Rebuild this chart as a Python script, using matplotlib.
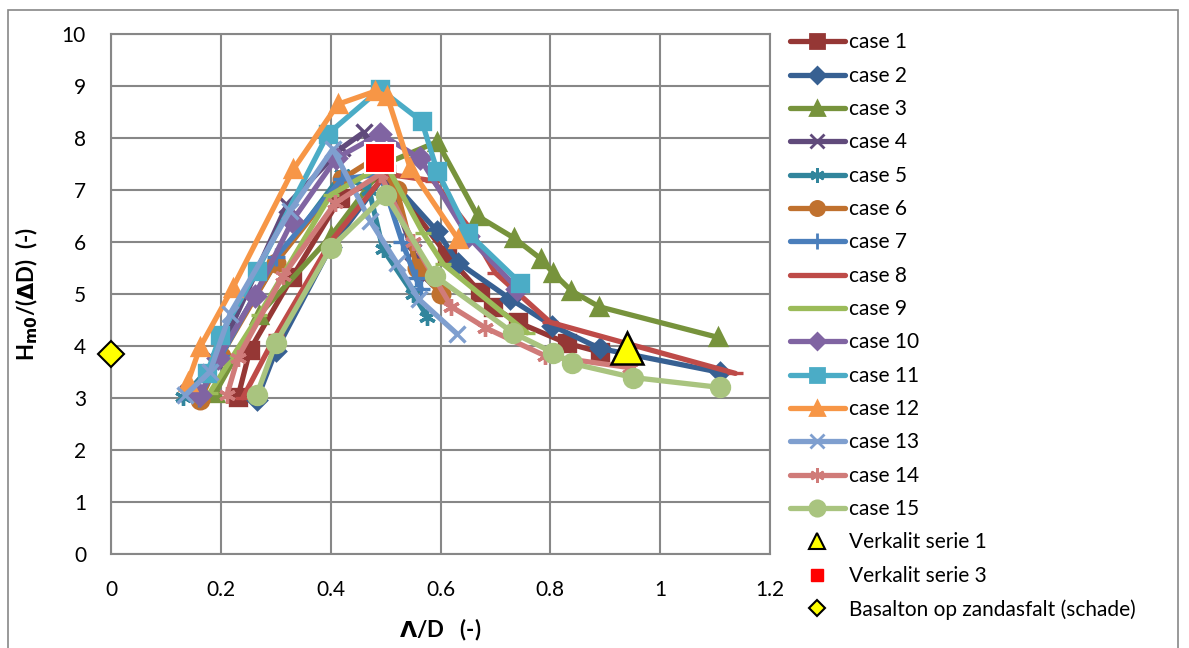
import matplotlib
matplotlib.use('Agg')
import matplotlib.pyplot as plt
from matplotlib.lines import Line2D
from matplotlib.patches import Rectangle

plt.rcParams['font.family'] = ['Lato', 'DejaVu Sans']

# ---- data (Lambda/D, Hm0/(Delta D)) ----
case1_x = [0.231, 0.253, 0.33, 0.417, 0.5, 0.612, 0.672, 0.696, 0.741, 0.83, 0.89]
case1_y = [3.01, 3.92, 5.32, 6.83, 7.3, 5.74, 5.03, 4.74, 4.45, 4.05, 3.88]
case2_x = [0.265, 0.3, 0.4, 0.5, 0.594, 0.632, 0.727, 0.803, 0.89, 1.109]
case2_y = [2.95, 3.9, 5.9, 7.3, 6.2, 5.6, 4.9, 4.39, 3.95, 3.49]
case3_x = [0.19, 0.27, 0.4, 0.5, 0.594, 0.668, 0.734, 0.783, 0.805, 0.838, 0.889, 1.106]
case3_y = [3.1, 4.6, 6.1, 7.5, 7.92, 6.49, 6.07, 5.67, 5.40, 5.06, 4.75, 4.16]
case4_x = [0.14, 0.19, 0.32, 0.42, 0.46, 0.51, 0.55, 0.57]
case4_y = [3.1, 3.7, 6.7, 7.8, 8.1, 7.0, 5.8, 5.3]
case5_x = [0.131, 0.19, 0.3, 0.42, 0.47, 0.495, 0.55, 0.576]
case5_y = [3.01, 3.7, 5.6, 7.3, 7.0, 5.86, 5.0, 4.56]
case6_x = [0.162, 0.2, 0.3, 0.42, 0.48, 0.52, 0.557, 0.6]
case6_y = [2.95, 3.8, 5.6, 7.2, 7.6, 7.0, 5.5, 5.0]
case7_x = [0.16, 0.2, 0.3, 0.42, 0.49, 0.53, 0.555, 0.565]
case7_y = [3.0, 3.8, 5.7, 7.2, 7.3, 6.0, 5.3, 5.1]
case8_x = [0.24, 0.3, 0.4, 0.5, 0.587, 0.65, 0.7, 0.8, 1.137]
case8_y = [3.0, 4.2, 6.0, 7.3, 7.17, 6.3, 5.4, 4.45, 3.47]
case9_x = [0.18, 0.27, 0.4, 0.5, 0.568, 0.605, 0.758]
case9_y = [3.1, 4.6, 6.9, 7.5, 6.17, 5.57, 4.25]
case10_x = [0.162, 0.195, 0.262, 0.33, 0.41, 0.49, 0.563, 0.65, 0.74]
case10_y = [3.05, 3.77, 4.96, 6.4, 7.6, 8.07, 7.6, 6.1, 5.1]
case11_x = [0.175, 0.199, 0.266, 0.395, 0.49, 0.566, 0.594, 0.65, 0.745]
case11_y = [3.47, 4.2, 5.44, 8.07, 8.93, 8.31, 7.36, 6.17, 5.21]
case12_x = [0.14, 0.162, 0.222, 0.332, 0.413, 0.481, 0.503, 0.545, 0.632]
case12_y = [3.3, 3.97, 5.12, 7.39, 8.64, 8.89, 8.79, 7.41, 6.05]
case13_x = [0.135, 0.18, 0.217, 0.326, 0.404, 0.472, 0.52, 0.56, 0.63]
case13_y = [3.05, 3.5, 4.62, 6.59, 7.78, 6.4, 5.6, 4.9, 4.23]
case14_x = [0.211, 0.231, 0.313, 0.408, 0.49, 0.55, 0.62, 0.681, 0.79, 0.945]
case14_y = [3.05, 3.77, 5.34, 6.74, 7.3, 6.0, 4.75, 4.35, 3.81, 3.58]
case15_x = [0.265, 0.3, 0.4, 0.5, 0.59, 0.732, 0.805, 0.84, 0.951, 1.109]
case15_y = [3.05, 4.05, 5.88, 6.9, 5.34, 4.25, 3.87, 3.66, 3.39, 3.2]

verkalit1_x, verkalit1_y = [0.94], [3.95]
verkalit3_x, verkalit3_y = [0.49], [7.6]
basalton_x, basalton_y = [0.0], [3.85]

labels = [f'case {i}' for i in range(1, 16)]
xs = [case1_x, case2_x, case3_x, case4_x, case5_x, case6_x, case7_x, case8_x,
      case9_x, case10_x, case11_x, case12_x, case13_x, case14_x, case15_x]
ys = [case1_y, case2_y, case3_y, case4_y, case5_y, case6_y, case7_y, case8_y,
      case9_y, case10_y, case11_y, case12_y, case13_y, case14_y, case15_y]
colors = ['#953735', '#376092', '#77933C', '#604A7B', '#31859C', '#C0712E', '#4A7EBB',
          '#BE4B48', '#9BBB59', '#8064A2', '#4BACC6', '#F79646', '#7F9FCF', '#D07B79', '#A9C47F']
asterisk = (6, 2, 0)
markers = ['s', 'D', '^', 'x', asterisk, 'o', '+', '_', '_', 'D', 's', '^', 'x', asterisk, 'o']
msizes = [12, 9, 12, 12, 12, 12, 13, 12, 12, 10, 12, 12, 12, 12, 13]

fig = plt.figure(figsize=(11.89, 6.48), dpi=100)
ax = fig.add_axes([111 / 1189, 1 - 554 / 648, 659 / 1189, 520.5 / 648])

handles = []
for x, y, c, m, ms, lab in zip(xs, ys, colors, markers, msizes, labels):
    ax.plot(x, y, '-', color=c, lw=3.8, marker=m, ms=ms, mec=c, mfc=c, mew=2.4,
            solid_capstyle='round', zorder=3)
    handles.append(Line2D([], [], color=c, lw=3.8, marker=m, ms=ms * 0.85, mec=c, mfc=c,
                          mew=2.0, solid_capstyle='round', label=lab))

ax.plot(verkalit1_x, verkalit1_y, ls='none', marker='^', ms=23, mfc='#FFFF00', mec='black',
        mew=1.8, zorder=5)
ax.plot(verkalit3_x, verkalit3_y, ls='none', marker='s', ms=22, mfc='#FF0000', mec='white',
        mew=1.5, zorder=5)
ax.plot(basalton_x, basalton_y, ls='none', marker='D', ms=13, mfc='#FFFF00', mec='black',
        mew=1.5, zorder=5, clip_on=False)
handles.append(Line2D([], [], ls='none', marker='^', ms=11, mfc='#FFFF00', mec='black',
                      mew=1.5, label='Verkalit serie 1'))
handles.append(Line2D([], [], ls='none', marker='s', ms=9, mfc='#FF0000', mec='#FF0000',
                      label='Verkalit serie 3'))
handles.append(Line2D([], [], ls='none', marker='D', ms=8, mfc='#FFFF00', mec='black',
                      mew=1.5, label='Basalton op zandasfalt (schade)'))

ax.set_xlim(0, 1.2)
ax.set_ylim(0, 10)
ax.set_xticks([0, 0.2, 0.4, 0.6, 0.8, 1.0, 1.2])
ax.set_xticklabels(['0', '0.2', '0.4', '0.6', '0.8', '1', '1.2'])
ax.set_yticks(range(0, 11))
ax.tick_params(axis='x', length=0, labelsize=15, pad=19)
ax.tick_params(axis='y', length=0, labelsize=15, pad=18)
ax.grid(True, color='#878787', lw=1.5)
ax.set_axisbelow(True)
for s in ax.spines.values():
    s.set_color('#878787')
    s.set_linewidth(1.5)

ax.set_xlabel(r'$\mathbf{\Lambda}$/D   (-)', fontsize=16, fontweight='bold', labelpad=12)
ax.set_ylabel(r'H$_{\mathbf{m0}}$/($\mathbf{\Delta}$D)  (-)', fontsize=16, fontweight='bold',
              labelpad=16)

ax.legend(handles=handles, loc='upper left', bbox_to_anchor=(1.017, 1.018), frameon=False,
          fontsize=15, handlelength=2.65, handletextpad=0.2, labelspacing=0.64,
          borderaxespad=0)

fig.patches.append(Rectangle((8 / 1189, -0.01), 1170 / 1189, 1 - 10 / 648 + 0.01,
                             transform=fig.transFigure, fill=False, edgecolor='#878787',
                             lw=1.2))

plt.savefig('out.png', dpi=100)
